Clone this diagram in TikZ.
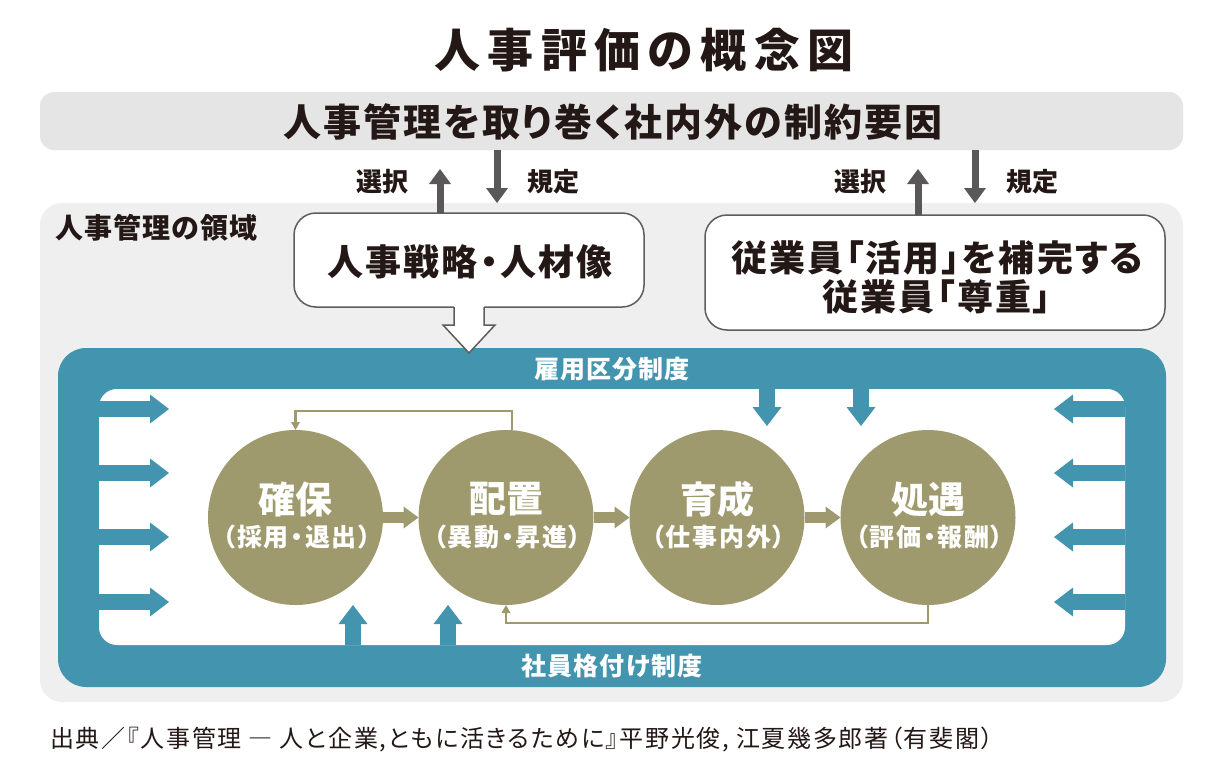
\documentclass[tikz,border=0pt]{standalone}
\usepackage{fontspec}
\setmainfont{Noto Sans CJK JP}[RawFeature=+palt]
\usetikzlibrary{arrows.meta}
\definecolor{ink}{HTML}{231815}
\definecolor{arrowgray}{HTML}{595757}
\definecolor{boxline}{HTML}{5E5C5C}
\definecolor{barfill}{HTML}{E5E5E6}
\definecolor{regionfill}{HTML}{EFEFEF}
\definecolor{teal}{HTML}{4394AE}
\definecolor{olive}{HTML}{9F9A6D}
\newcommand{\fsz}[1]{\fontsize{#1}{#1}\selectfont}
\begin{document}
\begin{tikzpicture}[x=1pt,y=-1pt,
  every node/.style={inner sep=0pt, outer sep=0pt},
  title/.style={text=ink, font=\fsz{46}\bfseries\addfontfeatures{LetterSpace=16}},
  bartext/.style={text=ink, font=\fsz{38}\bfseries\addfontfeatures{LetterSpace=5.5}},
  smalllabel/.style={text=ink, font=\fsz{26}\bfseries},
  boxtext/.style={text=ink, font=\fsz{36}\bfseries\addfontfeatures{LetterSpace=6}, align=center},
  whitebox/.style={draw=boxline, line width=1.5pt, fill=white, rounded corners=22pt, rectangle},
  grayarrow/.style={draw=arrowgray, line width=7pt, -{Triangle[width=22pt,length=15pt,line width=0pt]}},
  tealarrow/.style={draw=teal, line width=16pt, -{Triangle[width=29pt,length=19pt,line width=0pt]}},
  olivearrow/.style={draw=olive, line width=11pt, -{Triangle[width=22pt,length=15pt,line width=0pt]}},
  feedback/.style={draw=olive, line width=2.2pt, -{Triangle[width=9pt,length=8pt,line width=0pt]}},
  stage/.style={circle, fill=olive, minimum size=175pt},
  stagemain/.style={text=white, font=\fsz{37}\bfseries},
  stagesub/.style={text=white, font=\fsz{25}\bfseries\addfontfeatures{LetterSpace=7}},
  frametext/.style={text=white, font=\fsz{25}\bfseries\addfontfeatures{LetterSpace=4}},
]
\useasboundingbox[fill=white] (0,0) rectangle (1224,771);

% title
\node[title] (ttl) at (644,50) {人事評価の概念図};

% top bar
\node[rectangle, fill=barfill, rounded corners=14pt, minimum width=1143pt, minimum height=58pt] (bar) at (611.5,121) {};
\node[bartext] (bartxt) at (613,122) {人事管理を取り巻く社内外の制約要因};

% domain region
\node[rectangle, fill=regionfill, rounded corners=22pt, minimum width=1143pt, minimum height=499pt] (domain) at (611.5,452.5) {};
\node[smalllabel, font=\fsz{28}\bfseries\addfontfeatures{LetterSpace=4}, anchor=west] (domlabel) at (55,228) {人事管理の領域};

% boxes
\node[whitebox, minimum width=350pt, minimum height=94pt] (strat) at (469,260) {};
\node[boxtext] (strattxt) at (470,262) {人事戦略・人材像};
\node[whitebox, minimum width=460pt, minimum height=115pt] (emp) at (935,272.5) {};
\node[boxtext] (emptxt1) at (937,258) {従業員「活用」を補完する};
\node[boxtext] (emptxt2) at (937,297) {従業員「尊重」};

% gray arrows and labels
\coordinate (up1) at (440,169);
\coordinate (dn1) at (497,203);
\coordinate (up2) at (918,169);
\coordinate (dn2) at (975,203);
\draw[grayarrow] (up1 |- strat.north) -- (up1);
\draw[grayarrow] (dn1 |- bar.south) -- (dn1);
\draw[grayarrow] (up2 |- emp.north) -- (up2);
\draw[grayarrow] (dn2 |- bar.south) -- (dn2);
\node[smalllabel] (sel1) at (382,182) {選択};
\node[smalllabel] (reg1) at (553,182) {規定};
\node[smalllabel] (sel2) at (860,182) {選択};
\node[smalllabel] (reg2) at (1032,182) {規定};

% teal frame
\node[rectangle, fill=teal, rounded corners=28pt, minimum width=1108pt, minimum height=339pt] (frame) at (612,517.5) {};
\node[rectangle, fill=white, rounded corners=18pt, minimum width=1026pt, minimum height=256pt] (inner) at (612,517) {};
\node[frametext] (kubun) at (612,369) {雇用区分制度};
\node[frametext] (kakuzuke) at (612,666) {社員格付け制度};

% hollow arrow from strategy box
\fill[white] ([xshift=-15pt,yshift=1pt]strat.south) -- ++(0,19) -- ++(-11,0) -- ++(26,28) -- ++(26,-28) -- ++(-11,0) -- ++(0,-19) -- cycle;
\draw[draw=boxline, line width=1.5pt, line join=miter] ([xshift=-15pt]strat.south) -- ++(0,18) -- ++(-11,0) -- ++(26,28) -- ++(26,-28) -- ++(-11,0) -- ++(0,-18);

% teal arrows
\foreach \yy [count=\i] in {409,473,537,602} {
  \coordinate (L\i) at (169,\yy);
  \coordinate (R\i) at (1054,\yy);
  \draw[tealarrow] (L\i -| inner.west) -- (L\i);
  \draw[tealarrow] (R\i -| inner.east) -- (R\i);
}
\coordinate (T1) at (767,426);
\coordinate (T2) at (861,426);
\coordinate (B1) at (353,605);
\coordinate (B2) at (448,605);
\draw[tealarrow] (T1 |- inner.north) -- (T1);
\draw[tealarrow] (T2 |- inner.north) -- (T2);
\draw[tealarrow] (B1 |- inner.south) -- (B1);
\draw[tealarrow] (B2 |- inner.south) -- (B2);

% stages
\node[stage] (c1) at (295.5,517.5) {};
\node[stage] (c2) at (506,517.5) {};
\node[stage] (c3) at (717,517.5) {};
\node[stage] (c4) at (928,517.5) {};
\foreach \c/\m/\s in {c1/確保/（採用・退出）, c2/配置/（異動・昇進）, c3/育成/（仕事内外）, c4/処遇/（評価・報酬）} {
  \node[stagemain] (\c m) at ([yshift=18pt]\c.center) {\m};
  \node[stagesub] (\c s) at ([xshift=1.5pt,yshift=-19.5pt]\c.center) {\s};
}
\draw[olivearrow] (c1.east) -- (c2.west);
\draw[olivearrow] (c2.east) -- (c3.west);
\draw[olivearrow] (c3.east) -- (c4.west);

% feedback loops
\draw[feedback] ([xshift=6pt]c2.north) -- ++(0,-19) -| (c1.north);
\draw[feedback] (c4.south) -- ++(0,18) -| (c2.south);

% caption
\node[text=ink, font=\fsz{24}\addfontfeatures{LetterSpace=7}, anchor=west] (caption) at (50,740) {出典／『人事管理 ― 人と企業,ともに活きるために』平野光俊, 江夏幾多郎著（有斐閣）};
\end{tikzpicture}
\end{document}
